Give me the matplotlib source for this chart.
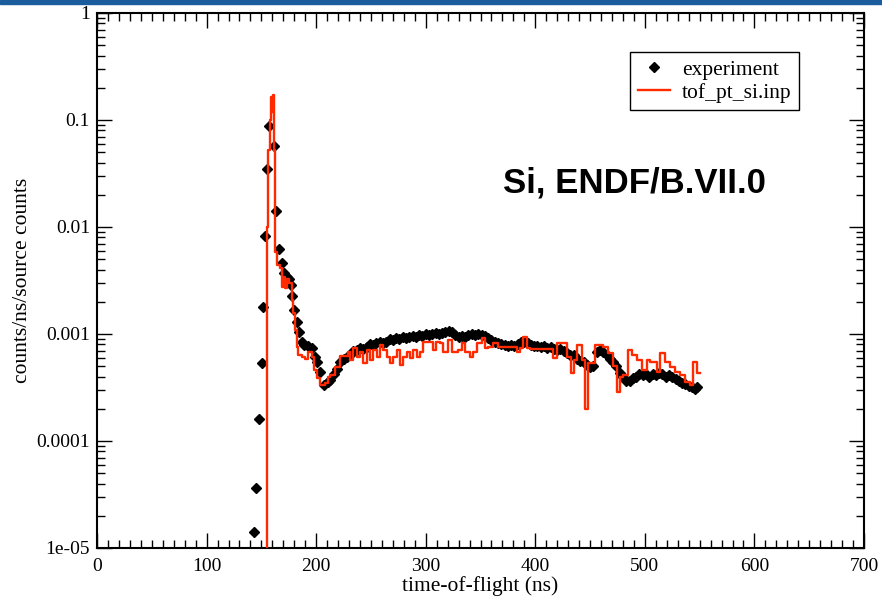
import matplotlib.pyplot as plt
from matplotlib.patches import Rectangle
from matplotlib.ticker import FixedLocator, FixedFormatter, LogLocator, MultipleLocator

# measured time-of-flight spectrum (ns, counts/ns/source counts)
exp_t = [143.3, 145.1, 147.6, 150.2, 151.9, 153.1, 154.9, 157.4, 161.7, 163.5,
         166.5, 168.6, 170.7, 173.2, 175.3, 177.2, 178.4, 180.2, 182.3, 184.7,
         186.9, 189.0, 192.3, 195.9, 199.0, 201.1, 203.6, 207.5, 211.2,
         213, 216, 219, 222, 225, 228, 231, 234, 237, 240, 243, 246, 249, 252,
         255, 258, 261, 264, 267, 270, 273, 276, 279, 282, 285, 288, 291, 294,
         297, 300, 303, 306, 309, 312, 315, 318, 321, 324, 327, 330, 333, 336,
         339, 342, 345, 348, 351, 354, 357, 360, 363, 366, 369, 372, 375, 378,
         381, 384, 387, 390, 393, 396, 399, 402, 405, 408, 411, 414, 417, 420,
         423, 426, 429, 432, 435, 438, 441, 444, 447, 450, 453, 456, 459, 462,
         465, 468, 471, 474, 477, 480, 483, 486, 489, 492, 495, 498, 501, 504,
         507, 510, 513, 516, 519, 522, 525, 528, 531, 534, 537, 540, 543, 546, 548]
exp_y = [1.42e-5, 3.66e-5, 1.6e-4, 5.4e-4, 1.77e-3, 8.3e-3, 0.0346, 0.0885, 0.0575, 0.0141,
         6.23e-3, 4.57e-3, 3.69e-3, 3.43e-3, 3.29e-3, 2.87e-3, 2.27e-3, 1.68e-3, 1.29e-3, 1.04e-3,
         8.5e-4, 7.9e-4, 7.7e-4, 7.45e-4, 6.1e-4, 5.5e-4, 4.45e-4, 3.33e-4, 3.58e-4,
         3.7e-4, 4.2e-4, 4.7e-4, 5.5e-4, 5.8e-4, 6.1e-4, 6.4e-4, 7.0e-4, 7.1e-4, 7.4e-4, 7.3e-4, 7.6e-4, 8.1e-4, 7.9e-4,
         8.2e-4, 8.4e-4, 8.2e-4, 8.5e-4, 8.9e-4, 8.8e-4, 9.1e-4, 8.9e-4, 9.4e-4, 9.1e-4, 9.4e-4, 9.6e-4, 9.4e-4, 9.8e-4,
         9.6e-4, 1.0e-3, 9.8e-4, 1.0e-3, 1.02e-3, 1.0e-3, 1.02e-3, 1.04e-3, 1.07e-3, 1.04e-3, 9.8e-4, 9.4e-4, 9.6e-4, 9.4e-4,
         9.8e-4, 1.0e-3, 9.8e-4, 1.0e-3, 9.8e-4, 9.6e-4, 9.1e-4, 8.8e-4, 8.5e-4, 8.2e-4, 8.1e-4, 7.9e-4, 7.7e-4, 7.9e-4,
         7.7e-4, 8.1e-4, 8.4e-4, 8.4e-4, 8.2e-4, 7.9e-4, 7.7e-4, 7.7e-4, 7.6e-4, 7.7e-4, 7.4e-4, 7.6e-4, 7.3e-4, 7.1e-4,
         7.3e-4, 7.0e-4, 6.6e-4, 6.3e-4, 6.4e-4, 5.9e-4, 5.6e-4, 5.5e-4, 5.1e-4, 4.9e-4, 5.0e-4, 6.8e-4, 7.1e-4, 6.8e-4,
         6.4e-4, 5.9e-4, 5.5e-4, 5.0e-4, 4.3e-4, 3.96e-4, 3.6e-4, 3.6e-4, 3.85e-4, 4.0e-4, 4.2e-4, 4.1e-4, 4.2e-4, 4.0e-4,
         4.2e-4, 4.1e-4, 4.3e-4, 4.2e-4, 4.0e-4, 4.1e-4, 3.96e-4, 3.8e-4, 3.6e-4, 3.45e-4, 3.4e-4, 3.25e-4, 3.2e-4, 3.05e-4, 3.2e-4]

# MCNP tally from tof_pt_si.inp: bin edges (ns) and bin contents
sim_edges = [150.0, 154.9, 156.3, 157.9, 159.0, 159.8, 160.5, 161.5, 162.5, 164.0,
             167.0, 168.6, 170.0, 171.6, 173.1, 175.5, 177.7, 179.2, 180.7, 182.3,
             183.7, 186.8, 189.8, 192.8, 195.9, 198.3, 200.5, 203.5, 208.1, 211.1,
             212.7, 217.2, 221.8, 229.1, 230.9, 233.6, 237.3, 240.0, 242.8, 246.4,
             249.2, 251.9, 255.5, 258.3, 261.0, 264.7, 267.4, 270.1, 273.8, 276.5,
             279.3, 282.9, 285.7, 288.4, 292.1, 294.8, 297.5, 306.7, 309.5, 313.0,
             315.8, 320.3, 324.0, 329.5, 333.1, 335.9, 340.4, 343.2, 346.8, 351.4,
             354.1, 356.9, 361.4, 366.0, 383.3, 386.1, 388.8, 392.4, 395.2, 416.2,
             419.8, 429.0, 432.6, 435.3, 438.1, 442.6, 445.4, 448.1, 454.5, 461.8,
             466.4, 470.9, 474.6, 477.3, 480.1, 484.6, 488.3, 492.8, 497.4, 502.0,
             504.7, 511.1, 513.8, 518.4, 523.0, 527.5, 532.1, 536.7, 541.2, 543.9,
             547.6, 550.4]
sim_y = [1e-7, 0.0101, 0.052, 0.10, 0.165, 0.12, 0.17, 0.052, 0.0059, 0.0044,
         0.0041, 0.00277, 0.00343, 0.00267, 0.0033, 0.00298, 0.00208, 0.00156, 0.00109, 7.6e-4,
         6.4e-4, 6.1e-4, 5.9e-4, 6.8e-4, 6.1e-4, 4.6e-4, 3.85e-4, 3.33e-4, 3.45e-4, 4.0e-4,
         4.1e-4, 4.9e-4, 6.2e-4, 6.8e-4, 5.7e-4, 7.4e-4, 6.1e-4, 6.8e-4, 5.4e-4, 7.1e-4,
         5.7e-4, 7.1e-4, 6.1e-4, 7.9e-4, 7.1e-4, 6.1e-4, 5.4e-4, 6.1e-4, 7.1e-4, 5.1e-4,
         6.1e-4, 6.8e-4, 6.0e-4, 7.1e-4, 6.1e-4, 6.8e-4, 8.4e-4, 7.1e-4, 8.4e-4, 8.2e-4,
         6.8e-4, 8.8e-4, 6.8e-4, 7.1e-4, 8.2e-4, 6.8e-4, 6.1e-4, 6.8e-4, 8.2e-4, 9.1e-4,
         7.4e-4, 7.6e-4, 8.2e-4, 7.6e-4, 6.8e-4, 7.4e-4, 9.4e-4, 7.4e-4, 7.2e-4, 6.0e-4,
         8.2e-4, 6.1e-4, 4.3e-4, 5.7e-4, 7.9e-4, 5.7e-4, 2.0e-4, 5.4e-4, 7.9e-4, 7.6e-4,
         6.6e-4, 5.0e-4, 2.9e-4, 3.96e-4, 4.1e-4, 7.1e-4, 6.3e-4, 5.7e-4, 4.6e-4, 5.7e-4,
         5.5e-4, 4.4e-4, 6.6e-4, 5.5e-4, 4.9e-4, 4.4e-4, 4.1e-4, 3.56e-4, 3.33e-4, 5.5e-4,
         4.3e-4]

y_ticks = [1e-5, 1e-4, 1e-3, 1e-2, 1e-1, 1]
y_ticklabels = ["1e-05", "0.0001", "0.001", "0.01", "0.1", "1"]

red = "#ff2a00"
serif = ["Liberation Serif", "DejaVu Serif"]
plt.rcParams["font.family"] = serif

fig = plt.figure(figsize=(8.82, 6.01), dpi=100)
fig.patches.append(Rectangle((0, 0.994), 1, 0.006, transform=fig.transFigure,
                             color="#1b5c9c", zorder=10))
ax = fig.add_axes([0.110, 0.0882, 0.8696, 0.8902])

ax.plot(exp_t, exp_y, linestyle="none", marker="D", ms=5.6, color="black",
        label="experiment", zorder=3)
ax.step(sim_edges, sim_y + [sim_y[-1]], where="post", color=red, lw=1.7,
        label="tof_pt_si.inp", zorder=4)

ax.set_yscale("log")
ax.set_xlim(0, 700)
ax.set_ylim(1e-5, 1)
ax.yaxis.set_major_locator(FixedLocator(y_ticks))
ax.yaxis.set_major_formatter(FixedFormatter(y_ticklabels))
ax.yaxis.set_minor_locator(LogLocator(base=10, subs=range(2, 10)))
ax.yaxis.set_minor_formatter(FixedFormatter([]))
ax.xaxis.set_major_locator(MultipleLocator(100))
ax.xaxis.set_minor_locator(MultipleLocator(10))

for s in ax.spines.values():
    s.set_linewidth(1.5)
ax.tick_params(which="both", direction="in", top=True, right=True, width=1.0)
ax.tick_params(which="major", length=11, labelsize=14)
ax.tick_params(axis="x", which="major", pad=7)
ax.tick_params(axis="y", which="major", pad=5)
ax.tick_params(which="minor", length=6)

ax.set_xlabel("time-of-flight (ns)", fontsize=15.5, labelpad=1)
ax.set_ylabel("counts/ns/source counts", fontsize=15.5, labelpad=3)

ax.text(0.529, 0.682, "Si, ENDF/B.VII.0", transform=ax.transAxes, ha="left",
        va="center", fontsize=25, fontweight="bold",
        family=["Liberation Sans", "DejaVu Sans"])

leg = ax.legend(loc="upper right", bbox_to_anchor=(0.915, 0.927), fontsize=15.5,
                fancybox=False, edgecolor="black", framealpha=1,
                handlelength=1.5, borderpad=0.35, labelspacing=0.15,
                handletextpad=0.55, borderaxespad=0, markerscale=0.9)
leg.get_frame().set_linewidth(1.0)

fig.savefig("out.png", dpi=100)
